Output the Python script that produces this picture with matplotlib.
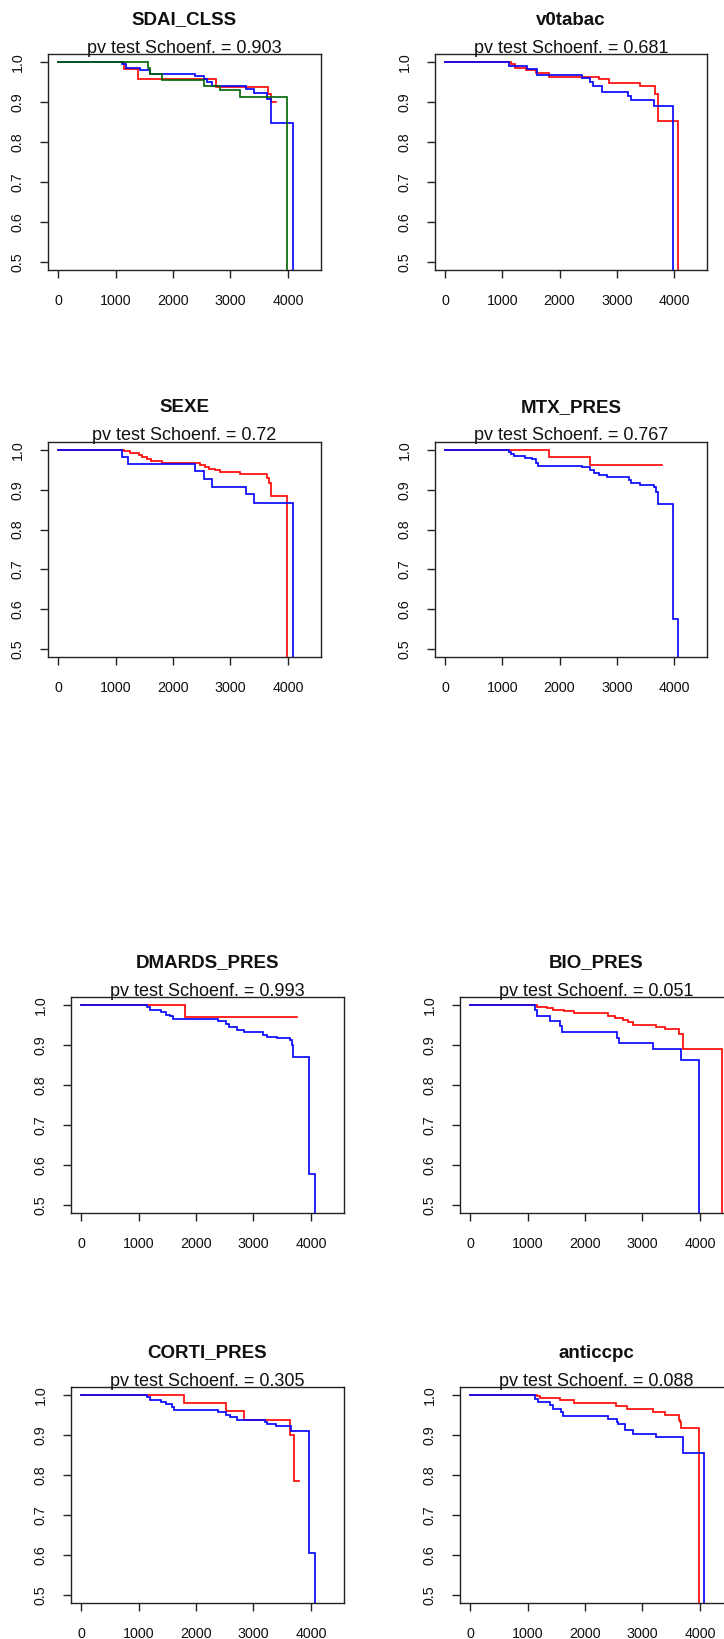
import matplotlib
matplotlib.use("Agg")
import matplotlib.pyplot as plt

plt.rcParams['font.family'] = ['Liberation Sans', 'DejaVu Sans']

# ---- Kaplan-Meier step data: event times and survival after each time ----
# SDAI_CLSS
sdai_red_t = [0, 1150, 1385, 2740, 3650, 3700]
sdai_red_s = [1.0, 0.982, 0.958, 0.938, 0.92, 0.90]
sdai_red_end = 3790
sdai_blue_t = [0, 1110, 1180, 1420, 1600, 2390, 2535, 2600, 2680, 3262, 3407, 3640, 3698, 4081]
sdai_blue_s = [1.0, 0.995, 0.985, 0.979, 0.971, 0.964, 0.958, 0.95, 0.941, 0.933, 0.923, 0.908, 0.848, 0.0]
sdai_green_t = [0, 1558, 1605, 1808, 2547, 2826, 3174, 3977]
sdai_green_s = [1.0, 0.986, 0.971, 0.956, 0.941, 0.929, 0.912, 0.0]

# v0tabac
tabac_red_t = [0, 1150, 1226, 1409, 1583, 1814, 2684, 2858, 3409, 3670, 3716, 4075]
tabac_red_s = [1.0, 0.994, 0.986, 0.981, 0.973, 0.962, 0.957, 0.948, 0.939, 0.921, 0.852, 0.0]
tabac_blue_t = [0, 1119, 1438, 1612, 2394, 2539, 2580, 2742, 3188, 3254, 3652, 3977]
tabac_blue_s = [1.0, 0.99, 0.982, 0.967, 0.96, 0.95, 0.94, 0.925, 0.916, 0.906, 0.891, 0.0]

# SEXE
sexe_red_t = [0, 1151, 1256, 1400, 1460, 1547, 1616, 1808, 2477, 2550, 2622, 2738, 2826,
              3174, 3640, 3670, 3709, 3977]
sexe_red_s = [1.0, 0.997, 0.992, 0.987, 0.983, 0.978, 0.972, 0.967, 0.962, 0.957, 0.953, 0.95,
              0.945, 0.939, 0.93, 0.918, 0.885, 0.0]
sexe_blue_t = [0, 1110, 1209, 2390, 2547, 2680, 3262, 3407, 4081]
sexe_blue_s = [1.0, 0.983, 0.966, 0.947, 0.928, 0.908, 0.889, 0.868, 0.0]

# MTX_PRES
mtx_red_t = [0, 1814, 2539]
mtx_red_s = [1.0, 0.983, 0.962]
mtx_red_end = 3786
mtx_blue_t = [0, 1119, 1160, 1206, 1397, 1525, 1583, 1623, 2394, 2539, 2597, 2684, 2829, 3206,
              3252, 3409, 3652, 3681, 3716, 3977, 4075]
mtx_blue_s = [1.0, 0.995, 0.99, 0.985, 0.98, 0.977, 0.968, 0.96, 0.956, 0.95, 0.943, 0.937,
              0.931, 0.924, 0.918, 0.912, 0.907, 0.895, 0.864, 0.575, 0.0]

# DMARDS_PRES
dmards_red_t = [0, 1808]
dmards_red_s = [1.0, 0.97]
dmards_red_end = 3759
dmards_blue_t = [0, 1148, 1205, 1395, 1481, 1550, 1607, 2382, 2525, 2582, 2709, 2841, 3174,
                 3231, 3403, 3644, 3673, 3696, 3960, 4063]
dmards_blue_s = [1.0, 0.995, 0.988, 0.983, 0.976, 0.972, 0.964, 0.959, 0.952, 0.944, 0.937,
                 0.933, 0.926, 0.92, 0.918, 0.912, 0.9, 0.87, 0.578, 0.0]

# BIO_PRES
bio_red_t = [0, 1168, 1341, 1445, 1629, 1801, 2394, 2521, 2665, 2751, 2837, 3240, 3401, 3643,
             3701, 4380]
bio_red_s = [1.0, 0.995, 0.992, 0.987, 0.984, 0.98, 0.973, 0.968, 0.962, 0.957, 0.951, 0.945,
             0.939, 0.927, 0.889, 0.0]
bio_blue_t = [0, 1128, 1168, 1399, 1571, 1600, 2550, 2590, 3183, 3672, 3988]
bio_blue_s = [1.0, 0.987, 0.973, 0.959, 0.947, 0.933, 0.918, 0.906, 0.891, 0.862, 0.0]

# CORTI_PRES
corti_red_t = [0, 1796, 2525, 2841, 3644, 3701]
corti_red_s = [1.0, 0.981, 0.96, 0.937, 0.899, 0.785]
corti_red_end = 3788
corti_blue_t = [0, 1148, 1205, 1395, 1470, 1578, 1618, 2382, 2525, 2600, 2709, 3197, 3243,
                3386, 3656, 3960, 4063]
corti_blue_s = [1.0, 0.995, 0.987, 0.983, 0.977, 0.97, 0.963, 0.957, 0.951, 0.945, 0.937,
                0.932, 0.927, 0.922, 0.909, 0.605, 0.0]

# anticcpc
ccp_red_t = [0, 1168, 1225, 1571, 1801, 2538, 2734, 3183, 3401, 3643, 3660, 3672, 3977]
ccp_red_s = [1.0, 0.997, 0.993, 0.987, 0.981, 0.972, 0.966, 0.957, 0.949, 0.938, 0.932,
             0.918, 0.0]
ccp_blue_t = [0, 1128, 1180, 1399, 1440, 1589, 1617, 2394, 2550, 2580, 2694, 2837, 3240,
              3701, 4075]
ccp_blue_s = [1.0, 0.991, 0.982, 0.974, 0.966, 0.957, 0.947, 0.939, 0.932, 0.927, 0.913,
              0.903, 0.895, 0.855, 0.0]

titles = ["SDAI_CLSS", "v0tabac", "SEXE", "MTX_PRES",
          "DMARDS_PRES", "BIO_PRES", "CORTI_PRES", "anticcpc"]
pvalues = ["0.903", "0.681", "0.72", "0.767", "0.993", "0.051", "0.305", "0.088"]

x_ticks = [0, 1000, 2000, 3000, 4000]
y_ticks = [0.5, 0.6, 0.7, 0.8, 0.9, 1.0]

RED, BLUE, GREEN = "#FF0000", "#0000FF", "#006400"

curves = [
    [(sdai_red_t, sdai_red_s, sdai_red_end, RED),
     (sdai_blue_t, sdai_blue_s, None, BLUE),
     (sdai_green_t, sdai_green_s, None, GREEN)],
    [(tabac_red_t, tabac_red_s, None, RED),
     (tabac_blue_t, tabac_blue_s, None, BLUE)],
    [(sexe_red_t, sexe_red_s, None, RED),
     (sexe_blue_t, sexe_blue_s, None, BLUE)],
    [(mtx_red_t, mtx_red_s, mtx_red_end, RED),
     (mtx_blue_t, mtx_blue_s, None, BLUE)],
    [(dmards_red_t, dmards_red_s, dmards_red_end, RED),
     (dmards_blue_t, dmards_blue_s, None, BLUE)],
    [(bio_red_t, bio_red_s, None, RED),
     (bio_blue_t, bio_blue_s, None, BLUE)],
    [(corti_red_t, corti_red_s, corti_red_end, RED),
     (corti_blue_t, corti_blue_s, None, BLUE)],
    [(ccp_red_t, ccp_red_s, None, RED),
     (ccp_blue_t, ccp_blue_s, None, BLUE)],
]

W, H = 724, 1639
fig = plt.figure(figsize=(W / 100, H / 100), dpi=100)
fig.patch.set_facecolor("white")

# panel boxes in pixels: (left, top, right, bottom)
boxes = [
    (48, 54, 321, 270), (435, 54, 707, 270),
    (48, 442, 321, 657), (435, 442, 707, 657),
    (71, 997, 344, 1213), (460, 997, 733, 1213),
    (71, 1387, 344, 1603), (460, 1387, 733, 1603),
]


def km_step(ax, t, s, end, color):
    tt = list(t)
    ss = list(s)
    if end is not None:
        tt.append(end)
        ss.append(s[-1])
    ax.step(tt, ss, where="post", color=color, lw=1.2, solid_joinstyle="miter")


for (l, t, r, b), title, pv, group in zip(boxes, titles, pvalues, curves):
    ax = fig.add_axes([l / W, (H - b) / H, (r - l) / W, (b - t) / H])
    for tt, ss, end, col in group:
        km_step(ax, tt, ss, end, col)
    ax.set_xlim(-176, 4576)
    ax.set_ylim(0.48, 1.02)
    ax.set_xticks(x_ticks)
    ax.set_xticklabels([str(v) for v in x_ticks])
    ax.set_yticks(y_ticks)
    ax.set_yticklabels([f"{v:.1f}" for v in y_ticks], rotation=90, va="center")
    ax.tick_params(axis="both", direction="out", length=6, width=1.0, color="#222222",
                   labelsize=10.3, labelcolor="#111111", pad=11)
    for sp in ax.spines.values():
        sp.set_color("#222222")
        sp.set_linewidth(1.0)
    ax.text(0.5, 1.0 + 34 / (b - t), title, transform=ax.transAxes, ha="center",
            va="center", fontsize=13.5, fontweight="bold", color="#111111")
    ax.text(0.5, 1.0 + 1.5 / (b - t), f"pv test Schoenf. = {pv}", transform=ax.transAxes,
            ha="center", va="baseline", fontsize=13, color="#111111")

fig.savefig("out.png", dpi=100, facecolor="white")
